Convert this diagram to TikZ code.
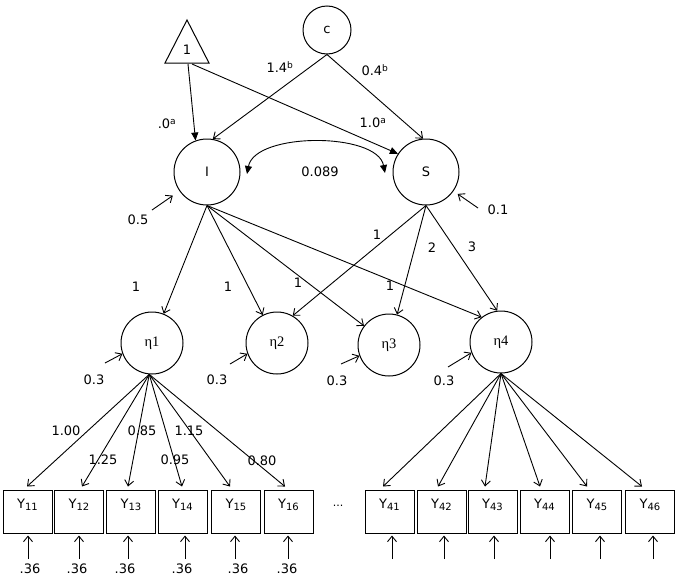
\documentclass[tikz,border=0pt]{standalone}
\usepackage{fontspec}
\setmainfont{DejaVu Sans}
\newfontfamily\grk{Liberation Serif}
\usetikzlibrary{arrows.meta,calc}
\newcommand{\ysub}[1]{Y{\fontsize{10}{11}\selectfont\raisebox{-1.5pt}{#1}}}
\begin{document}
\begin{tikzpicture}[x=1pt,y=-1pt,
  lbl/.style={font=\fontsize{13}{15}\selectfont, inner sep=0pt},
  circ/.style={draw, circle, line width=1pt, inner sep=0pt, font=\fontsize{13}{15}\selectfont},
  etac/.style={draw, circle, line width=1pt, inner sep=0pt, minimum size=62pt, font=\grk\fontsize{14.5}{16}\selectfont},
  box/.style={draw, rectangle, line width=1pt, minimum width=49pt, minimum height=43pt, inner sep=0pt,
              text height=9pt, text depth=15pt, font=\fontsize{13}{15}\selectfont},
  bar/.style={-{Straight Barb[length=5.5pt,width=9pt]}, line width=0.9pt},
  tri/.style={-{Triangle[length=8pt,width=7pt]}, line width=0.9pt},
  dbl/.style={{Triangle[length=8pt,width=7pt]}-{Triangle[length=8pt,width=7pt]}, line width=0.9pt}]
\useasboundingbox (0,0) rectangle (679,581);

% triangle constant
\coordinate (tA) at (187,20);
\coordinate (tL) at (165,63);
\coordinate (tR) at (209,63);
\draw[line width=1pt] (tA) -- (tL) -- (tR) -- cycle;
\node[lbl] (one) at (187,50) {1};
\coordinate (t1) at (188,64);
\coordinate (t2) at (192,64);

% latent nodes
\node[circ, minimum size=48pt] (c) at (327,30) {c};
\node[circ, minimum size=66pt] (I) at (207,172) {I};
\node[circ, minimum size=66pt] (S) at (426,172) {S};
\node[etac] (e1) at (152,343) {η1};
\node[etac] (e2) at (277,343) {η2};
\node[etac] (e3) at (389,345) {η3};
\node[etac] (e4) at (501,342) {η4};

% top arrows
\draw[tri] (t1) -- (I.110);
\draw[tri] (t2) -- (S.147);
\draw[bar] (c.south) -- (I.80);
\draw[bar] (c.south) -- (S.95);
\node[lbl] (l0a) at (167,124) {.0\textsuperscript{a}};
\node[lbl] (l1a) at (373,123) {1.0\textsuperscript{a}};
\node[lbl] (l14) at (280,67) {1.4\textsuperscript{b}};
\node[lbl] (l04) at (375,70) {0.4\textsuperscript{b}};

% covariance
\coordinate (cL) at (247,174);
\coordinate (cR) at (385,173);
\draw[dbl] (cL) .. controls (255,132) and (377,132) .. (cR);
\node[lbl] (cov) at (320,172) {0.089};

% disturbances of I and S
\coordinate (dI) at (152,210);
\coordinate (dS) at (478,208);
\draw[bar, shorten >=8pt] (dI) -- (I);
\draw[bar, shorten >=5pt] (dS) -- (S);
\node[lbl] (l05) at (138,220) {0.5};
\node[lbl] (l01) at (498,210) {0.1};

% growth loadings
\draw[bar] (I.south) -- (e1);
\draw[bar] (I.south) -- (e2);
\draw[bar] (I.south) -- (e3);
\draw[bar] (I.south) -- (e4.128);
\draw[bar] (S.south) -- (e2.60);
\draw[bar] (S.south) -- (e3);
\draw[bar] (S.south) -- (e4.97);
\node[lbl] (g1) at (136,287) {1};
\node[lbl] (g2) at (228,287) {1};
\node[lbl] (g3) at (298,283) {1};
\node[lbl] (g4) at (390,286) {1};
\node[lbl] (s1) at (377,235) {1};
\node[lbl] (s2) at (432,248) {2};
\node[lbl] (s3) at (472,247) {3};

% eta disturbances
\coordinate (d1) at (105,363);
\coordinate (d2) at (230,364);
\coordinate (d3) at (341,364);
\coordinate (d4) at (448,367);
\draw[bar] (d1) -- (e1.200);
\draw[bar] (d2) -- (e2.200);
\draw[bar] (d3) -- (e3.200);
\draw[bar] (d4) -- (e4.200);
\node[lbl] (z1) at (94,380) {0.3};
\node[lbl] (z2) at (217,380) {0.3};
\node[lbl] (z3) at (337,381) {0.3};
\node[lbl] (z4) at (444,381) {0.3};

% indicators
\node[box] (y11) at (27.5,511.5) {\ysub{11}};
\node[box] (y12) at (79,511.5) {\ysub{12}};
\node[box] (y13) at (131,511.5) {\ysub{13}};
\node[box] (y14) at (182.5,511.5) {\ysub{14}};
\node[box] (y15) at (236,511.5) {\ysub{15}};
\node[box] (y16) at (288.5,511.5) {\ysub{16}};
\node[box] (y41) at (389.5,511.5) {\ysub{41}};
\node[box] (y42) at (441.5,511.5) {\ysub{42}};
\node[box] (y43) at (492.5,511.5) {\ysub{43}};
\node[box] (y44) at (544.5,511.5) {\ysub{44}};
\node[box] (y45) at (597,511.5) {\ysub{45}};
\node[box] (y46) at (650,511.5) {\ysub{46}};
\node[font=\fontsize{11}{12}\selectfont, inner sep=0pt] (dots) at (338,506) {...};

% factor loadings
\draw[bar] (e1.265) -- ([xshift=-0.5pt,yshift=3pt]y11.north);
\draw[bar] (e1.265) -- ([xshift=3pt,yshift=3pt]y12.north);
\draw[bar] (e1.265) -- ([xshift=-3pt,yshift=3pt]y13.north);
\draw[bar] (e1.265) -- ([xshift=-0.5pt,yshift=3pt]y14.north);
\draw[bar] (e1.265) -- ([xshift=-6pt,yshift=3pt]y15.north);
\draw[bar] (e1.265) -- ([xshift=-3.5pt,yshift=3pt]y16.north);
\draw[bar] (e4.south) -- ([xshift=-6.5pt,yshift=3pt]y41.north);
\draw[bar] (e4.south) -- ([xshift=-3.5pt,yshift=3pt]y42.north);
\draw[bar] (e4.south) -- ([xshift=-7.5pt,yshift=3pt]y43.north);
\draw[bar] (e4.south) -- ([xshift=-4.5pt,yshift=3pt]y44.north);
\draw[bar] (e4.south) -- ([xshift=-10pt,yshift=3pt]y45.north);
\draw[bar] (e4.south) -- ([xshift=-8pt,yshift=3pt]y46.north);
\node[lbl] (f1) at (66,431) {1.00};
\node[lbl] (f2) at (103,460) {1.25};
\node[lbl] (f3) at (142,431) {0.85};
\node[lbl] (f4) at (175,460) {0.95};
\node[lbl] (f5) at (189,431) {1.15};
\node[lbl] (f6) at (262,461) {0.80};

% residual arrows
\foreach \n/\x in {11/28,12/79,13/128,14/185,15/235,16/288,41/392,42/444,43/494,44/550,45/600,46/653}{
  \coordinate (u\n) at (\x,559);
  \draw[bar, shorten >=2pt] (u\n) -- (u\n |- y\n.south);
}
\node[lbl] (r11) at (30,569) {.36};
\node[lbl] (r12) at (77,569) {.36};
\node[lbl] (r13) at (125,569) {.36};
\node[lbl] (r14) at (182,569) {.36};
\node[lbl] (r15) at (238,569) {.36};
\node[lbl] (r16) at (287,569) {.36};
\end{tikzpicture}
\end{document}
